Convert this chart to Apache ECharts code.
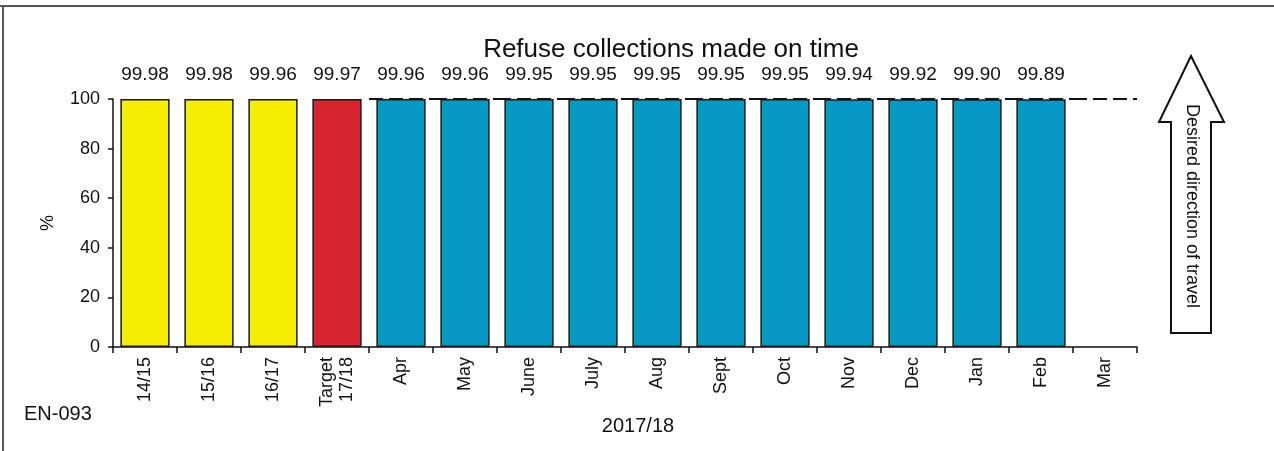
<!DOCTYPE html>
<html>
<head>
<meta charset="utf-8">
<script src="https://cdn.jsdelivr.net/npm/echarts@6/dist/echarts.min.js"></script>
<style>
  html, body { margin: 0; padding: 0; background: #fff; }
  #chart { width: 1274px; height: 451px; }
</style>
</head>
<body>
<div id="chart"></div>
<script>
// Refuse collections made on time (EN-093)
const categories = ['14/15', '15/16', '16/17', 'Target\n17/18', 'Apr', 'May', 'June', 'July',
                    'Aug', 'Sept', 'Oct', 'Nov', 'Dec', 'Jan', 'Feb', 'Mar'];
const values = [99.98, 99.98, 99.96, 99.97, 99.96, 99.96, 99.95, 99.95,
                99.95, 99.95, 99.95, 99.94, 99.92, 99.90, 99.89, null];
// bar group per category: yearly outturns, the annual target, monthly results
const groups = ['year', 'year', 'year', 'target', 'month', 'month', 'month', 'month',
                'month', 'month', 'month', 'month', 'month', 'month', 'month', 'month'];
const targetValue = 99.97;
const targetMonths = ['Apr', 'May', 'June', 'July', 'Aug', 'Sept', 'Oct', 'Nov', 'Dec', 'Jan', 'Feb', 'Mar'];
const yTicks = [0, 20, 40, 60, 80, 100];

const groupColors = { year: '#f4ee05', target: '#d7252f', month: '#0898c6' };
const font = '"Liberation Sans", Arial, sans-serif';

const chart = echarts.init(document.getElementById('chart'), null, { renderer: 'canvas' });

const option = {
  backgroundColor: '#fff',
  animation: false,
  textStyle: { fontFamily: font, color: '#111' },
  title: {
    text: 'Refuse collections made on time',
    left: 666, top: 32, textAlign: 'center',
    textStyle: { fontFamily: font, fontSize: 26, fontWeight: 'normal', color: '#111' }
  },
  grid: { left: 113, right: 137, top: 99, bottom: 104 },
  xAxis: {
    type: 'category',
    data: categories,
    boundaryGap: true,
    axisLine: { lineStyle: { color: '#111', width: 1.5 } },
    axisTick: { show: true, alignWithLabel: false, length: 6, lineStyle: { color: '#111', width: 1.5 } },
    axisLabel: {
      rotate: 90, interval: 0, margin: 10,
      fontFamily: font, fontSize: 18, color: '#111', lineHeight: 20, align: 'right'
    }
  },
  yAxis: {
    type: 'value',
    min: yTicks[0], max: yTicks[yTicks.length - 1], interval: 20,
    name: '%', nameLocation: 'middle', nameRotate: 90, nameGap: 56,
    nameTextStyle: { fontFamily: font, fontSize: 18, color: '#111' },
    axisLine: { show: true, lineStyle: { color: '#111', width: 1.5 } },
    axisTick: { show: true, length: 5, lineStyle: { color: '#111', width: 1.5 } },
    axisLabel: { fontFamily: font, fontSize: 18, color: '#111', margin: 13 },
    splitLine: { show: false }
  },
  series: [
    {
      type: 'bar',
      barCategoryGap: '23%',
      data: values.map((v, i) => ({
        value: v,
        itemStyle: { color: groupColors[groups[i]], borderColor: '#1a1a1a', borderWidth: 1.5 }
      })),
      label: {
        show: true, position: 'top', distance: 15,
        fontFamily: font, fontSize: 19, color: '#111',
        formatter: p => p.value == null ? '' : p.value.toFixed(2)
      },
      z: 2
    },
    {
      // annual target drawn across each month's full band
      type: 'custom',
      data: targetMonths.map(m => [m, targetValue]),
      renderItem: (params, api) => {
        const c = api.coord([api.value(0), api.value(1)]);
        const w = api.size([1, 0])[0];
        return {
          type: 'line',
          shape: { x1: c[0] - w / 2, y1: c[1], x2: c[0] + w / 2, y2: c[1] },
          style: { stroke: '#111', lineWidth: 2, lineDash: [14, 6] }
        };
      },
      z: 3
    }
  ],
  graphic: [
    // frame
    { type: 'line', shape: { x1: 0, y1: 6, x2: 1274, y2: 6 }, style: { stroke: '#555', lineWidth: 2 } },
    { type: 'line', shape: { x1: 3, y1: 6, x2: 3, y2: 451 }, style: { stroke: '#555', lineWidth: 2 } },
    // direction arrow
    {
      type: 'polygon',
      shape: { points: [[1191, 56], [1159, 122], [1171, 122], [1171, 333], [1211, 333], [1211, 122], [1224, 122]] },
      style: { fill: '#fff', stroke: '#111', lineWidth: 2 }
    },
    {
      type: 'text', x: 1192, y: 206, rotation: -Math.PI / 2,
      style: { text: 'Desired direction of travel', fontFamily: font, fontSize: 18, fill: '#111',
               align: 'center', verticalAlign: 'middle' }
    },
    {
      type: 'text', x: 638, y: 426,
      style: { text: '2017/18', fontFamily: font, fontSize: 20, fill: '#111', align: 'center', verticalAlign: 'middle' }
    },
    {
      type: 'text', x: 24, y: 414,
      style: { text: 'EN-093', fontFamily: font, fontSize: 20, fill: '#111', align: 'left', verticalAlign: 'middle' }
    }
  ]
};

chart.setOption(option);
</script>
</body>
</html>
